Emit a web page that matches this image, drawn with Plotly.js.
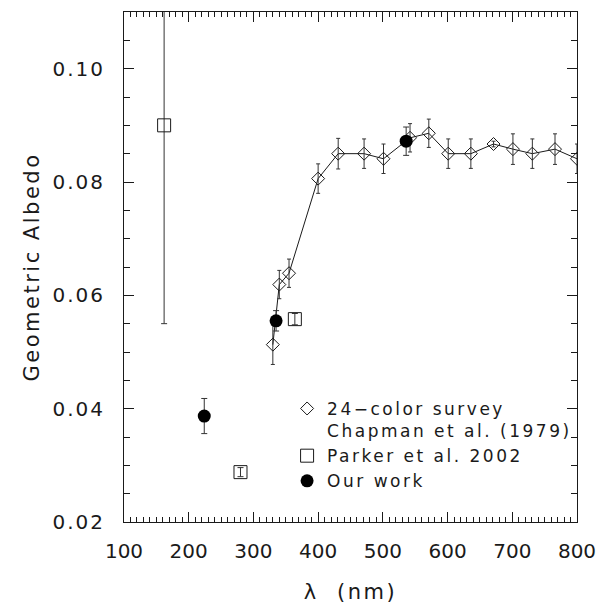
<!DOCTYPE html>
<html>
<head>
<meta charset="utf-8">
<script src="https://cdn.plot.ly/plotly-3.0.1.min.js"></script>
<style>
html,body{margin:0;padding:0;background:#fff}
#chart{width:604px;height:604px}
.xtitle, .ytitle { letter-spacing: 2.5px; }
.legendtext { letter-spacing: 2.5px; }
.ytick text { letter-spacing: 2px; }
</style>
</head>
<body>
<div id="chart"></div>
<script>
// 24-color survey, Chapman et al. (1979)
const chapLambda = [330, 340, 355, 400, 431, 471, 501, 542, 571, 601, 636, 671, 701, 731, 766, 800];
const chapAlbedo = [0.0513, 0.0619, 0.0639, 0.0806, 0.0850, 0.0850, 0.0841, 0.0878, 0.0886, 0.0850, 0.0850, 0.0867, 0.0858, 0.0850, 0.0858, 0.0841];
const chapErr    = [0.0035, 0.0025, 0.0025, 0.0026, 0.0027, 0.0026, 0.0026, 0.0025, 0.0025, 0.0026, 0.0026, 0.0005, 0.0027, 0.0026, 0.0027, 0.0026];
// Parker et al. 2002
const parkerLambda = [162, 280, 364];
const parkerAlbedo = [0.090, 0.0288, 0.0558];
const parkerErr    = [0.035, 0.0008, 0.0010];
// Our work
const oursLambda = [224, 335, 536];
const oursAlbedo = [0.0387, 0.0555, 0.0872];
const oursErr    = [0.0031, 0.0018, 0.0025];

const xTickVals = [100, 200, 300, 400, 500, 600, 700, 800];
const yTickVals = [0.02, 0.04, 0.06, 0.08, 0.10];
const yTickText = ['0.02', '0.04', '0.06', '0.08', '0.10'];

const INK = '#1a1a1a';
const FONT = 'DejaVu Sans, sans-serif';

const traces = [
  {
    x: chapLambda, y: chapAlbedo, mode: 'lines', type: 'scatter',
    line: {color: INK, width: 1}, showlegend: false, hoverinfo: 'skip', cliponaxis: true
  },
  {
    x: chapLambda, y: chapAlbedo, mode: 'markers', type: 'scatter',
    name: '24\u2212color survey<br>Chapman et al. (1979)',
    marker: {symbol: 'diamond-open', size: 10, color: INK, line: {width: 1, color: INK}},
    error_y: {type: 'data', array: chapErr, visible: true, color: '#333', thickness: 1, width: 2},
    cliponaxis: true
  },
  {
    x: parkerLambda, y: parkerAlbedo, mode: 'markers', type: 'scatter',
    name: 'Parker et al. 2002',
    marker: {symbol: 'square-open', size: 13, color: INK, line: {width: 1, color: INK}},
    error_y: {type: 'data', array: parkerErr, visible: true, color: '#333', thickness: 1, width: 3},
    cliponaxis: true
  },
  {
    x: oursLambda, y: oursAlbedo, mode: 'markers', type: 'scatter',
    name: 'Our work',
    marker: {symbol: 'circle', size: 13, color: '#000'},
    error_y: {type: 'data', array: oursErr, visible: true, color: '#333', thickness: 1, width: 3},
    cliponaxis: true
  }
];

const layout = {
  width: 604, height: 604,
  margin: {l: 124, r: 27, t: 12, b: 82, pad: 0},
  paper_bgcolor: '#fff', plot_bgcolor: '#fff',
  font: {family: FONT, size: 20, color: INK},
  showlegend: true,
  legend: {
    x: 0.36, y: 0.257, xanchor: 'left', yanchor: 'top',
    bgcolor: 'rgba(0,0,0,0)', borderwidth: 0,
    font: {family: FONT, size: 17, color: INK},
    valign: 'top', tracegroupgap: 0, itemwidth: 30
  },
  xaxis: {
    range: [100, 800], autorange: false,
    tickvals: xTickVals, ticktext: xTickVals.map(String),
    ticks: 'inside', ticklen: 10, tickwidth: 1, tickcolor: INK,
    minor: {dtick: 10, tick0: 100, ticks: 'inside', ticklen: 5, tickwidth: 1, tickcolor: INK},
    showline: true, linecolor: INK, linewidth: 1, mirror: 'ticks',
    showgrid: false, zeroline: false,
    tickfont: {family: FONT, size: 20, color: INK},
    ticklabelstandoff: 11,
    title: {text: '\u03bb  (nm)', font: {family: FONT, size: 21, color: INK}, standoff: 22}
  },
  yaxis: {
    range: [0.02, 0.11], autorange: false,
    tickvals: yTickVals, ticktext: yTickText,
    ticks: 'inside', ticklen: 10, tickwidth: 1, tickcolor: INK,
    minor: {dtick: 0.005, tick0: 0.02, ticks: 'inside', ticklen: 6, tickwidth: 1, tickcolor: INK},
    showline: true, linecolor: INK, linewidth: 1, mirror: 'ticks',
    showgrid: false, zeroline: false,
    tickfont: {family: FONT, size: 20, color: INK},
    ticklabelstandoff: 14,
    title: {text: 'Geometric Albedo', font: {family: FONT, size: 21, color: INK}, standoff: 7}
  }
};

Plotly.newPlot('chart', traces, layout, {staticPlot: true, displayModeBar: false});
</script>
</body>
</html>
